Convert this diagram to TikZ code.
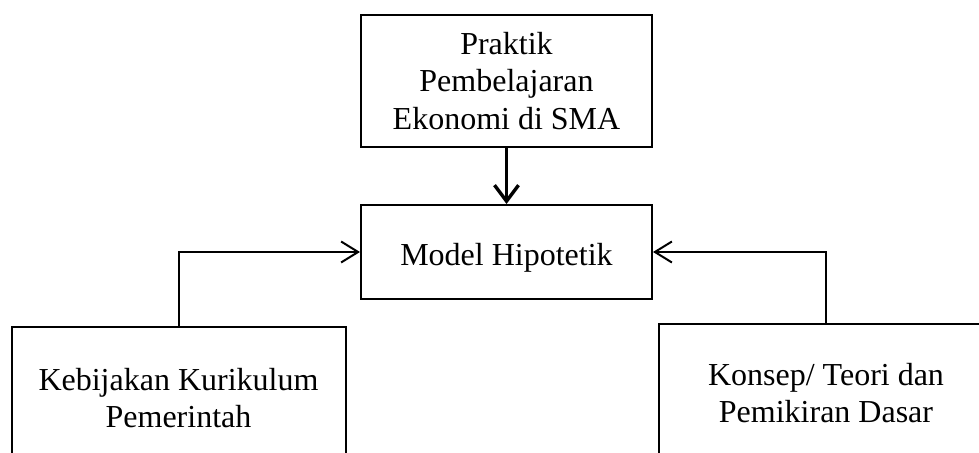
\documentclass[tikz,border=0pt]{standalone}
\usepackage{fontspec}
\setmainfont{Liberation Serif}
\usetikzlibrary{arrows.meta}
\begin{document}
\begin{tikzpicture}[x=0.5pt,y=-0.5pt,
  box/.style={draw,line width=1pt,rectangle,inner sep=0pt,align=center,
    font=\fontsize{16}{18.6}\selectfont},
  conn/.style={line width=1pt,-{Straight Barb[length=8.5pt,width=10.5pt,line width=1pt]}},
  thick conn/.style={line width=1.7pt,-{Straight Barb[length=8pt,width=12pt,line width=1.7pt]}}]
\useasboundingbox (0,0) rectangle (979,453);
\node[box,minimum width=145.5pt,minimum height=66pt] (top) at (506.5,81)
  {Praktik\\Pembelajaran\\Ekonomi di SMA};
\node[box,minimum width=145.5pt,minimum height=47pt] (model) at (506.5,252)
  {\raisebox{-3pt}[\height][\depth]{Model Hipotetik}};
\node[box,minimum width=167pt,minimum height=71pt] (lk) at (178.5,398)
  {Kebijakan Kurikulum\\Pemerintah};
\node[box,minimum width=167pt,minimum height=69pt] (rk) at (826,393)
  {Konsep/ Teori dan\\Pemikiran Dasar};
\draw[thick conn] (top.south) -- (model.north);
\draw[conn] (lk.north) |- (model.west);
\draw[conn] (rk.north) |- (model.east);
\end{tikzpicture}
\end{document}
